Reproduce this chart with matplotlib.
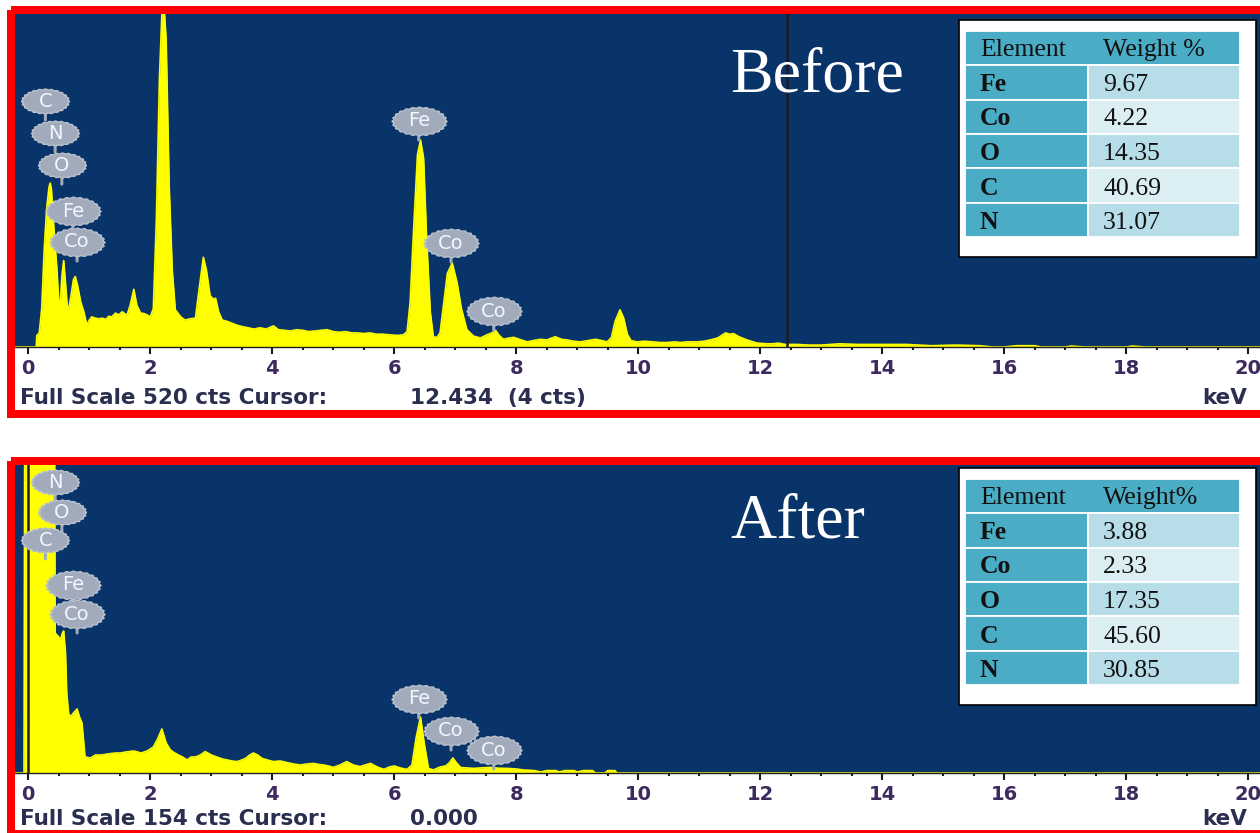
import numpy as np
import matplotlib
matplotlib.use("Agg")
import matplotlib.pyplot as plt
from matplotlib.patches import Rectangle
from matplotlib.path import Path

# ---------------- data ----------------
before_energy = [-0.22, 0.10, 0.13, 0.14, 0.18, 0.22, 0.26, 0.30, 0.34, 0.36, 0.38, 0.41, 0.44, 0.47, 0.50,
                 0.52, 0.55, 0.58, 0.61, 0.64, 0.66, 0.70, 0.74, 0.77, 0.81, 0.86, 0.91, 0.96, 1.00, 1.04,
                 1.10, 1.16, 1.21, 1.27, 1.32, 1.37, 1.43, 1.48, 1.54, 1.58, 1.62, 1.67, 1.73, 1.78, 1.84,
                 1.90, 1.95, 2.00, 2.05, 2.10, 2.15, 2.19, 2.22, 2.26, 2.31, 2.36, 2.41, 2.45, 2.50, 2.57,
                 2.65, 2.74, 2.80, 2.87, 2.92, 2.98, 3.03, 3.07, 3.12, 3.18, 3.26, 3.34, 3.42, 3.50, 3.60,
                 3.70, 3.80, 3.90, 4.02, 4.10, 4.20, 4.30, 4.40, 4.50, 4.60, 4.70, 4.80, 4.90, 5.00, 5.10,
                 5.20, 5.30, 5.39, 5.50, 5.60, 5.70, 5.80, 5.93, 6.05, 6.15, 6.21, 6.26, 6.32, 6.38, 6.43,
                 6.48, 6.53, 6.59, 6.64, 6.70, 6.75, 6.80, 6.87, 6.95, 7.03, 7.10, 7.19, 7.30, 7.41, 7.52,
                 7.60, 7.66, 7.72, 7.79, 7.88, 7.96, 8.08, 8.18, 8.28, 8.39, 8.50, 8.64, 8.74, 8.83, 8.94,
                 9.05, 9.17, 9.30, 9.40, 9.49, 9.56, 9.62, 9.70, 9.76, 9.82, 9.88, 9.98, 10.10, 10.25, 10.35,
                 10.47, 10.60, 10.69, 10.80, 10.96, 11.08, 11.18, 11.30, 11.43, 11.50, 11.56, 11.65, 11.78,
                 11.95, 12.11, 12.20, 12.30, 12.40, 12.60, 12.80, 13.00, 13.30, 13.60, 14.00, 14.40, 14.60,
                 14.80, 15.20, 15.60, 15.80, 16.00, 16.20, 16.50, 16.60, 17.00, 17.10, 17.30, 18.00, 18.10,
                 18.30, 20.20]
before_counts = [0, 0, 0, 18, 22, 60, 150, 215, 250, 256, 245, 198, 160, 120, 70,
                 58, 110, 135, 100, 62, 58, 80, 105, 110, 95, 70, 55, 34, 42, 47,
                 45, 44, 45, 43, 48, 47, 53, 50, 55, 52, 50, 65, 90, 65, 53,
                 52, 50, 47, 60, 200, 420, 520, 540, 480, 250, 120, 58, 53, 47, 42,
                 44, 45, 90, 140, 120, 80, 75, 76, 55, 42, 40, 37, 34, 32, 30,
                 28, 30, 28, 33, 27, 26, 25, 27, 26, 24, 25, 26, 27, 24, 23,
                 24, 22, 22, 21, 22, 20, 20, 19, 18, 19, 24, 70, 190, 300, 323,
                 295, 170, 55, 16, 15, 22, 60, 115, 131, 100, 60, 27, 17, 14, 19,
                 22, 26, 18, 12, 14, 15, 11, 8, 10, 12, 11, 16, 12, 11, 9,
                 8, 10, 12, 10, 8, 15, 40, 58, 45, 20, 10, 8, 9, 8, 7,
                 7, 8, 7, 8, 8, 9, 11, 14, 22, 20, 21, 16, 11,
                 6, 5, 5, 6, 4, 4, 3, 3, 5, 4, 4, 4, 3,
                 2, 3, 2, 0, 0, 2, 2, 0, 0, 1.5, 0, 0, 1.5,
                 0, 0]

after_energy = [-0.22, -0.07, -0.05, 0.42, 0.44, 0.50, 0.52, 0.56, 0.58, 0.61, 0.63, 0.66, 0.69, 0.74, 0.80,
                0.84, 0.88, 0.93, 1.02, 1.10, 1.21, 1.30, 1.43, 1.51, 1.60, 1.73, 1.85, 1.95, 2.05, 2.12,
                2.19, 2.26, 2.33, 2.40, 2.46, 2.53, 2.60, 2.67, 2.74, 2.82, 2.90, 3.00, 3.09, 3.18, 3.26,
                3.34, 3.42, 3.50, 3.56, 3.63, 3.69, 3.76, 3.83, 3.92, 4.02, 4.13, 4.24, 4.35, 4.46, 4.57,
                4.68, 4.76, 4.84, 4.92, 5.00, 5.11, 5.22, 5.33, 5.44, 5.52, 5.61, 5.72, 5.83, 5.92, 6.00,
                6.10, 6.21, 6.29, 6.36, 6.43, 6.49, 6.56, 6.64, 6.75, 6.84, 6.90, 6.96, 7.02, 7.09, 7.20,
                7.30, 7.40, 7.57, 7.70, 7.85, 8.00, 8.12, 8.30, 8.40, 8.50, 8.65, 8.70, 8.80, 8.95, 9.00,
                9.10, 9.25, 9.30, 9.45, 9.50, 9.62, 9.65, 20.20]
after_counts = [0, 0, 300, 300, 70, 68, 66, 70, 71, 60, 40, 30, 28, 30, 32,
                28, 25, 8, 7.5, 9, 9, 9.5, 10, 10, 10.5, 11, 10, 11, 13, 17,
                22, 15, 11.5, 10, 9, 8, 6.5, 8, 8, 9, 10.7, 9, 8, 7, 6.5,
                6, 5.7, 6.5, 7.3, 9, 10, 9, 7.3, 6.5, 5.7, 6, 5.2, 4.5, 4, 4.5,
                4.8, 4.3, 4, 3.5, 2.8, 4, 5.7, 4, 3.2, 4, 4.8, 3, 1.8, 3, 3.5,
                2.5, 1.8, 4, 18, 28, 15, 2.3, 1.5, 3, 3.5, 5, 7.5, 5, 2.7, 2.5,
                2.3, 2.5, 2.8, 2.4, 2.3, 2, 1.5, 1.2, 0.5, 1.2, 1.2, 0.5, 1.2, 1.2, 0.5,
                1.2, 1.2, 0, 0, 1.2, 1.2, 0, 0]

before_full_scale = 520
after_full_scale = 154
before_cursor = 12.434
after_cursor = 0.000
before_status = ["Full Scale 520 cts Cursor:", "12.434  (4 cts)"]
after_status = ["Full Scale 154 cts Cursor:", "0.000"]

label_text = ["C", "N", "O", "Fe", "Co", "Fe", "Co", "Co"]
label_kev = [0.28, 0.44, 0.55, 0.73, 0.80, 6.40, 6.93, 7.63]
before_label_cts = [384, 334, 284, 212, 164, 353, 162, 56]
after_label_cts = [116.5, 145.5, 130.5, 94, 79.5, 37, 21, 11.5]

elements = ["Fe", "Co", "O", "C", "N"]
before_weight = ["9.67", "4.22", "14.35", "40.69", "31.07"]
after_weight = ["3.88", "2.33", "17.35", "45.60", "30.85"]
before_header = ["Element", "Weight %"]
after_header = ["Element", "Weight%"]

xticks = list(range(0, 21, 2))
minor_ticks = [i * 0.5 for i in range(41)]

# ---------------- layout / style ----------------
W, H = 1260, 833
ZERO_PX, PX_PER_KEV = 28.3, 61.0
BLUE = "#09346a"
YELLOW = "#ffff00"
BADGE = "#a1abbb"
TICKLBL = "#3d2a5e"
STATUS = "#2b2f4f"
HEAD = "#4bacc6"
LIGHT1 = "#b7dde8"
LIGHT2 = "#daeef3"

fig = plt.figure(figsize=(W / 100, H / 100), dpi=100, facecolor="white")

t = np.linspace(0, 2 * np.pi, 241)
r = 1 + 0.035 * np.cos(24 * t)
badge_path = Path(np.column_stack([r * np.cos(t), 0.52 * r * np.sin(t)]), closed=True)


def panel(top, bottom, energy, counts, full_scale, cursor, label_cts):
    ax = fig.add_axes([15 / W, 1 - bottom / H, (W - 15) / W, (bottom - top) / H])
    ax.set_facecolor(BLUE)
    ax.set_xlim((15 - ZERO_PX) / PX_PER_KEV, (W - ZERO_PX) / PX_PER_KEV)
    ax.set_ylim(0, full_scale)
    ax.fill_between(energy, counts, 0, color=YELLOW, lw=0, zorder=2)
    ax.plot(energy, counts, color=YELLOW, lw=1.2, zorder=2)
    ax.axvline(cursor, color="#1c1c26", lw=1.8, zorder=3)
    for s, x, y in zip(label_text, label_kev, label_cts):
        ax.annotate("", xy=(x, y), xytext=(0, -19), textcoords="offset pixels",
                    arrowprops=dict(arrowstyle="-", color=BADGE, lw=2.2, shrinkA=0, shrinkB=0),
                    zorder=4)
        ms = (48 if len(s) == 1 else 55) * 0.72
        ax.plot([x], [y], marker=badge_path, ms=ms, mfc=BADGE, mec="#b9c1cd", mew=1.0,
                ls="none", zorder=5, clip_on=False)
        ax.text(x, y, s, ha="center", va="center", color="#f3f6fb", fontsize=14,
                family="DejaVu Sans", zorder=6)
    for sp in ["top", "left", "right"]:
        ax.spines[sp].set_visible(False)
    ax.spines["bottom"].set_color("#222222")
    ax.spines["bottom"].set_linewidth(1.0)
    ax.set_yticks([])
    ax.set_xticks(xticks, labels=[str(v) for v in xticks])
    ax.set_xticks(minor_ticks, minor=True)
    ax.tick_params(axis="x", which="major", direction="out", length=5, width=1.5,
                   color="#1a1a1a", labelsize=14, labelcolor=TICKLBL, pad=4.0)
    ax.tick_params(axis="x", which="minor", direction="out", length=2.5, width=1.5,
                   color="#1a1a1a")
    for lbl in ax.get_xticklabels():
        lbl.set_fontweight("bold")
        lbl.set_family("DejaVu Sans")
    return ax


panel(14, 347, before_energy, before_counts, before_full_scale, before_cursor, before_label_cts)
panel(465, 773, after_energy, after_counts, after_full_scale, after_cursor, after_label_cts)

# overlay in pixel coordinates for frames, titles and tables
ov = fig.add_axes([0, 0, 1, 1], zorder=10)
ov.set_xlim(0, W)
ov.set_ylim(H, 0)
ov.axis("off")
ov.patch.set_alpha(0)

# red frames
ov.add_patch(Rectangle((11, 10), 1275 - 11, 414 - 10, fill=False, ec="#ff0000", lw=8 * 0.72,
                       clip_on=False))
ov.add_patch(Rectangle((11, 461), 1275 - 11, 834 - 461, fill=False, ec="#ff0000", lw=8 * 0.72,
                       clip_on=False))

# status lines
for status, base in [(before_status, 404), (after_status, 825)]:
    ov.text(20, base, status[0], ha="left", va="baseline", fontsize=15.5, fontweight="bold",
            family="DejaVu Sans", color=STATUS)
    ov.text(410, base, status[1], ha="left", va="baseline", fontsize=15.5, fontweight="bold",
            family="DejaVu Sans", color=STATUS)
    ov.text(1202, base, "keV", ha="left", va="baseline", fontsize=15.5, fontweight="bold",
            family="DejaVu Sans", color=STATUS, clip_on=False)

# titles
ov.text(730, 91, "Before", ha="left", va="baseline", fontsize=46, family="Liberation Serif",
        color="white")
ov.text(730, 538, "After", ha="left", va="baseline", fontsize=46, family="Liberation Serif",
        color="white")


def draw_table(off, header, weights):
    ov.add_patch(Rectangle((959, 20 + off), 297, 237, fc="white", ec="black", lw=1.2))
    xs = [965, 1088, 1240]
    tops = [31 + off + 34.35 * i for i in range(7)]
    ov.add_patch(Rectangle((xs[0], tops[0]), xs[2] - xs[0], tops[1] - tops[0], fc=HEAD,
                           ec="white", lw=1.3))
    ov.text(980, 56 + off, header[0], ha="left", va="baseline", fontsize=18.5,
            family="Liberation Serif", color="#111111")
    ov.text(1103, 56 + off, header[1], ha="left", va="baseline", fontsize=18.5,
            family="Liberation Serif", color="#111111")
    for i, (el, w) in enumerate(zip(elements, weights)):
        y0, y1 = tops[i + 1], tops[i + 2]
        ov.add_patch(Rectangle((xs[0], y0), xs[1] - xs[0], y1 - y0, fc=HEAD, ec="white", lw=1.3))
        ov.add_patch(Rectangle((xs[1], y0), xs[2] - xs[1], y1 - y0,
                               fc=LIGHT1 if i % 2 == 0 else LIGHT2, ec="white", lw=1.3))
        base = 56 + off + 34.65 * (i + 1)
        ov.text(980, base, el, ha="left", va="baseline", fontsize=18.5, fontweight="bold",
                family="Liberation Serif", color="#111111")
        ov.text(1103, base, w, ha="left", va="baseline", fontsize=18.5,
                family="Liberation Serif", color="#111111")


draw_table(0, before_header, before_weight)
draw_table(448, after_header, after_weight)

fig.savefig("out.png", dpi=100, facecolor="white")
